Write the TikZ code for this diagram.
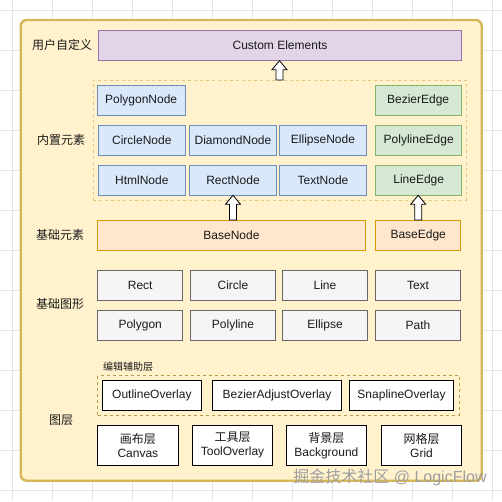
\documentclass[tikz,border=0pt]{standalone}
\usepackage{fontspec}
\setmainfont{Liberation Sans}
\newfontfamily\cjk{Noto Sans CJK SC}
\usetikzlibrary{calc}
\definecolor{gridc}{HTML}{E6E6E6}
\definecolor{outerfill}{HTML}{FFF2CC}
\definecolor{outerdraw}{HTML}{D6B656}
\definecolor{purfill}{HTML}{E1D5E7}
\definecolor{purdraw}{HTML}{9673A6}
\definecolor{bluefill}{HTML}{DAE8FC}
\definecolor{bluedraw}{HTML}{6C8EBF}
\definecolor{grnfill}{HTML}{D5E8D4}
\definecolor{grndraw}{HTML}{82B366}
\definecolor{orgfill}{HTML}{FFE6CC}
\definecolor{orgdraw}{HTML}{D79B00}
\definecolor{gryfill}{HTML}{F5F5F5}
\definecolor{grydraw}{HTML}{666666}
\definecolor{txt}{HTML}{1A1A1A}
\definecolor{grpdraw}{HTML}{E3C77E}
\tikzset{
  base/.style={inner sep=0pt, outer sep=0pt, line width=0.8pt, text=txt,
    font=\fontsize{12}{14}\selectfont, align=center},
  purbox/.style={base, fill=purfill, draw=purdraw},
  bluebox/.style={base, fill=bluefill, draw=bluedraw},
  grnbox/.style={base, fill=grnfill, draw=grndraw},
  orgbox/.style={base, fill=orgfill, draw=orgdraw},
  grybox/.style={base, fill=gryfill, draw=grydraw},
  whtbox/.style={base, fill=white, draw=black},
  grpbox/.style={base, draw=grpdraw, dashed, dash pattern=on 3pt off 3pt, line width=0.7pt},
  grpbox2/.style={base, draw=outerdraw!85!black, dash pattern=on 3pt off 3pt, line width=0.8pt},
  outerbox/.style={base, fill=outerfill, draw=outerdraw, line width=2.4pt, rounded corners=6pt},
  lbl/.style={inner sep=0pt, text=txt, font=\fontsize{12}{14}\selectfont\cjk},
  blockarrow/.style={fill=white, draw=black, line width=0.8pt, line join=miter},
}
\newcommand\bx[7]{%
  \pgfmathsetmacro\bxw{#4-#2}\pgfmathsetmacro\bxh{#5-#3}%
  \node[#6, minimum width=\bxw pt, minimum height=\bxh pt] (#1) at ({(#2+#4)/2},{(#3+#5)/2}) {#7};}
\newcommand\barrow[2]{%
  \draw[blockarrow] let \p1=(#1), \p2=(#2) in
    (\x1-3.5pt,\y1) -- (\x1-3.5pt,\y2-9pt) -- (\x1-7.5pt,\y2-9pt) -- (\x1,\y2)
    -- (\x1+7.5pt,\y2-9pt) -- (\x1+3.5pt,\y2-9pt) -- (\x1+3.5pt,\y1) -- cycle;}
\begin{document}
\begin{tikzpicture}[x=1pt,y=-1pt]
\useasboundingbox (0,0) rectangle (502,501);
\fill[white] (0,0) rectangle (502,501);
\foreach \gx in {12,52,...,492} \draw[gridc, line width=0.8pt] (\gx,0) -- (\gx,501);
\foreach \gy in {10,50,...,490} \draw[gridc, line width=0.8pt] (0,\gy) -- (502,\gy);

\bx{outer}{20.7}{20}{481.7}{480.7}{outerbox}{}

% user defined
\bx{custom}{98.3}{30}{461.7}{60.7}{purbox}{Custom Elements}
\node[lbl] (l1) at (62,45) {用户自定义};

% built-in
\bx{grp}{93}{80}{466}{200}{grpbox}{}
\node[lbl] (l2) at (61,140) {内置元素};
\bx{polygonnode}{97.3}{85}{185}{115.7}{bluebox}{PolygonNode}
\bx{bezieredge}{375.3}{85}{461}{115.7}{grnbox}{BezierEdge}
\bx{circlenode}{98.3}{125}{185.3}{155.3}{bluebox}{CircleNode}
\bx{diamondnode}{189.3}{125}{276.7}{155.3}{bluebox}{DiamondNode}
\bx{ellipsenode}{279.3}{125}{366.7}{155.3}{bluebox}{EllipseNode}
\bx{polylineedge}{375.7}{125}{461.7}{155.3}{grnbox}{PolylineEdge}
\bx{htmlnode}{98.3}{165}{185.3}{195.3}{bluebox}{HtmlNode}
\bx{rectnode}{189.3}{165}{276.7}{195.3}{bluebox}{RectNode}
\bx{textnode}{279.3}{165}{366.7}{195.3}{bluebox}{TextNode}
\bx{lineedge}{375.7}{165}{461.7}{195.3}{grnbox}{LineEdge}

% base elements
\node[lbl] (l3) at (60,235) {基础元素};
\bx{basenode}{97.3}{220}{365.7}{250.7}{orgbox}{BaseNode}
\bx{baseedge}{375.7}{220}{460.7}{250.7}{orgbox}{BaseEdge}

% basic shapes
\node[lbl] (l4) at (60,304) {基础图形};
\bx{rect}{97.7}{270.7}{182.7}{300.7}{grybox}{Rect}
\bx{circle}{190.3}{270.7}{275.7}{300.7}{grybox}{Circle}
\bx{line}{282.3}{270.7}{367.7}{300.7}{grybox}{Line}
\bx{text}{375.3}{270.7}{460.7}{300.7}{grybox}{Text}
\bx{polygon}{97.7}{310.3}{182.7}{340.3}{grybox}{Polygon}
\bx{polyline}{190.3}{310.3}{275.7}{340.3}{grybox}{Polyline}
\bx{ellipse}{282.3}{310.3}{367.7}{340.3}{grybox}{Ellipse}
\bx{path}{375.3}{310.3}{460.7}{340.3}{grybox}{Path}

% layers
\node[lbl, font=\fontsize{10}{12}\selectfont\cjk, anchor=west] (l6) at (103,366.5) {编辑辅助层};
\bx{grp2}{97.7}{375.7}{459}{415}{grpbox2}{}
\bx{outline}{102}{380.3}{201.7}{410.3}{whtbox}{OutlineOverlay}
\bx{bezieradj}{212.3}{380.3}{341.7}{410.3}{whtbox}{BezierAdjustOverlay}
\bx{snapline}{349.3}{380.3}{453.7}{410.3}{whtbox}{SnaplineOverlay}
\node[lbl] (l5) at (61,420) {图层};
\bx{canvas}{97.7}{425.3}{178}{465.3}{whtbox}{{\cjk 画布层}\\Canvas}
\bx{tool}{192.3}{425.3}{272.7}{465.3}{whtbox}{{\cjk 工具层}\\ToolOverlay}
\bx{background}{286}{425.3}{366.7}{465.3}{whtbox}{{\cjk 背景层}\\Background}
\bx{gridlayer}{381.3}{425.3}{461.7}{465.3}{whtbox}{{\cjk 网格层}\\Grid}

% arrows
\barrow{grp.north}{custom.south}
\barrow{rectnode.south |- basenode.north}{rectnode.south}
\barrow{baseedge.north}{lineedge.south}

% watermark
\node[inner sep=0pt, text=gray!75, font=\fontsize{16}{18}\selectfont] (wm) at (390,477) {{\cjk 掘金技术社区} @ LogicFlow};
\end{tikzpicture}
\end{document}
